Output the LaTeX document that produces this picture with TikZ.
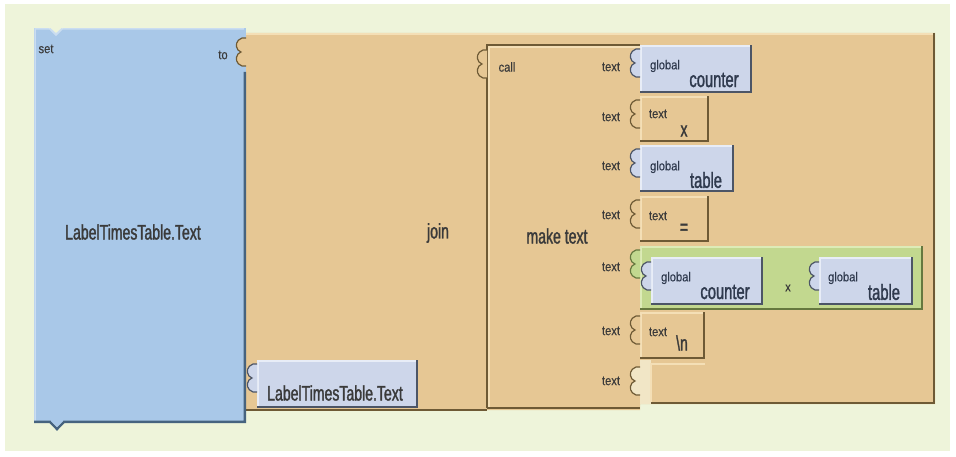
\documentclass[tikz,border=0pt]{standalone}
\usepackage{fontspec}
\setmainfont{Liberation Sans}
\newfontfamily\lblfont{Liberation Sans}[FakeStretch=0.86,FakeBold=0.3]
\newfontfamily\bigfont{Liberation Sans}[FakeStretch=0.67,FakeBold=1.4]

\definecolor{bgcol}{HTML}{EEF4DA}
\definecolor{bluefill}{HTML}{A9C8E8}
\definecolor{bluelight}{HTML}{CADDF1}
\definecolor{bluedark}{HTML}{46637F}
\definecolor{tanfill}{HTML}{E6C794}
\definecolor{tanlight}{HTML}{F4DFB6}
\definecolor{tandark}{HTML}{6E5A35}
\definecolor{varfill}{HTML}{CDD6EA}
\definecolor{varlight}{HTML}{E8EDF7}
\definecolor{vardark}{HTML}{4C5566}
\definecolor{grnfill}{HTML}{C2D88F}
\definecolor{grnlight}{HTML}{DDEBB7}
\definecolor{grndark}{HTML}{66783F}
\definecolor{holecol}{HTML}{F1E6C6}
\definecolor{txtcol}{HTML}{3A3A3A}
\definecolor{vartxt}{HTML}{2F3A4E}

% block body with a bevelled edge: x1 y1 x2 y2 fill light dark
\newcommand\bevelbox[7]{%
  \fill[#5] (#1,#2) rectangle (#3,#4);
  \draw[#6,line width=1.5pt] (#1+1,#4-2) -- (#1+1,#2+1) -- (#3-2,#2+1);
  \draw[#7,line width=2.5pt] (#1,#4-1.2) -- (#3-1.2,#4-1.2) -- (#3-1.2,#2);
}
% puzzle plug on the left side of a block: x0 y0 fill stroke
\newcommand\plugtab[4]{%
  \filldraw[fill=#3,draw=#4,line width=1.2pt]
    (#1,#2+2) -- (#1-4,#2+2)
    .. controls (#1-10,#2+4) and (#1-11,#2+10) .. (#1-8,#2+14)
    -- (#1-5,#2+16) -- (#1-8,#2+18)
    .. controls (#1-11,#2+22) and (#1-10,#2+28) .. (#1-4,#2+30)
    -- (#1,#2+30);
}

\tikzset{
  small/.style={font=\lblfont\fontsize{13}{13}\selectfont, text=txtcol, inner sep=0pt},
  big/.style={font=\bigfont\fontsize{21}{21}\selectfont, text=txtcol, inner sep=0pt},
  vsmall/.style={font=\lblfont\fontsize{13}{13}\selectfont, text=vartxt, inner sep=0pt},
  vbig/.style={font=\bigfont\fontsize{22}{22}\selectfont, text=vartxt, inner sep=0pt},
}

\begin{document}
\begin{tikzpicture}[x=1pt,y=-1pt]
\useasboundingbox (0,0) rectangle (956,457);
\fill[white] (0,0) rectangle (956,457);
\fill[bgcol] (5,4) rectangle (950,451);

% join block
\fill[tanfill] (246,33) -- (935,33) -- (935,404) -- (640,404) -- (640,410) -- (246,410) -- cycle;
\draw[tanlight,line width=1.5pt] (246,34) -- (933,34);
\draw[tandark,line width=2.5pt] (933.8,33) -- (933.8,402.8) -- (651,402.8);
\draw[tandark,line width=2.5pt] (246,409.8) -- (487,409.8);

% set block
\fill[bluefill] (34,28) rectangle (246,423);
\draw[bluelight,line width=1.5pt] (35,421) -- (35,29) -- (50,29) -- (56,35) -- (62,29) -- (244,29);
\fill[bgcol] (48,27) -- (56,34) -- (64,27) -- cycle;
\draw[bluelight,line width=1.2pt] (50,28.5) -- (56,34) -- (62,28.5);
\draw[bluedark,line width=2.5pt] (34,421.8) -- (50,421.8) -- (57,429) -- (64,421.8) -- (244.8,421.8) -- (244.8,72);
\fill[bluefill] (51,421) -- (57,427) -- (63,421) -- cycle;

% join plug in the "to" socket
\plugtab{246}{36}{tanfill}{tandark}

% make text block edges
\draw[tandark,line width=2pt] (487,408) -- (487,45) -- (640,45);
\draw[tanlight,line width=1.2pt] (489,407) -- (489,47) -- (640,47);
\draw[tandark,line width=2.5pt] (487,407.8) -- (640,407.8);
\plugtab{487}{48}{tanfill}{tandark}

% empty socket at the last row
\fill[holecol] (640,360) rectangle (651,404);
\draw[tanlight,line width=1.5pt] (651,402) -- (651,364) -- (705,364);
\filldraw[fill=holecol,draw=tandark,line width=1.2pt]
  (640,367) -- (636,367)
  .. controls (630,369) and (629,375) .. (632,379)
  -- (635,381) -- (632,383)
  .. controls (629,387) and (630,393) .. (636,395) -- (640,395);

% sockets of make text
\bevelbox{640}{45}{752}{93}{varfill}{varlight}{vardark}
\plugtab{640}{47}{varfill}{vardark}
\bevelbox{640}{96}{709}{142}{tanfill}{tanlight}{tandark}
\plugtab{640}{98}{tanfill}{tandark}
\bevelbox{640}{145}{734}{192}{varfill}{varlight}{vardark}
\plugtab{640}{147}{varfill}{vardark}
\bevelbox{640}{196}{709}{242}{tanfill}{tanlight}{tandark}
\plugtab{640}{198}{tanfill}{tandark}
\bevelbox{640}{246}{923}{310}{grnfill}{grnlight}{grndark}
\plugtab{640}{248}{grnfill}{grndark}
\bevelbox{651}{257}{763}{305}{varfill}{varlight}{vardark}
\plugtab{651}{260}{varfill}{vardark}
\bevelbox{819}{257}{913}{305}{varfill}{varlight}{vardark}
\plugtab{819}{260}{varfill}{vardark}
\bevelbox{640}{312}{705}{359}{tanfill}{tanlight}{tandark}
\plugtab{640}{314}{tanfill}{tandark}

% getter in the join block
\bevelbox{257}{360}{418}{408}{varfill}{varlight}{vardark}
\plugtab{257}{362}{varfill}{vardark}

% labels
\node[small] (lset) at (46,49) {set};
\node[small] (lto) at (223,55) {to};
\node[big] (lprop) at (133,232) {LabelTimesTable.Text};
\node[big] (ljoin) at (438,233) {join};
\node[small] (lcall) at (507,67) {call};
\node[big] (lmake) at (557,236) {make text};

\node[small] (t1) at (611,67) {text};
\node[small] (t2) at (611,117) {text};
\node[small] (t3) at (611,166) {text};
\node[small] (t4) at (611,215) {text};
\node[small] (t5) at (611,267) {text};
\node[small] (t6) at (611,331) {text};
\node[small] (t7) at (611,381) {text};

\node[vsmall] (g1) at (665,66) {global};
\node[vbig] (c1) at (714,80) {counter};
\node[small] (s2a) at (658,114) {text};
\node[big] (s2b) at (684,131) {x};
\node[vsmall] (g3) at (665,167) {global};
\node[vbig] (c3) at (706,180) {table};
\node[small] (s4a) at (658,216) {text};
\node[big] (s4b) at (684,229) {=};
\node[vsmall] (g5a) at (676,278) {global};
\node[vbig] (c5a) at (725,292) {counter};
\node[small] (op5) at (788,288) {x};
\node[vsmall] (g5b) at (843,278) {global};
\node[vbig] (c5b) at (884,292) {table};
\node[small] (s6a) at (658,332) {text};
\node[big] (s6b) at (682,343) {\textbackslash n};
\node[big] (lget) at (335,393) {LabelTimesTable.Text};
\end{tikzpicture}
\end{document}
